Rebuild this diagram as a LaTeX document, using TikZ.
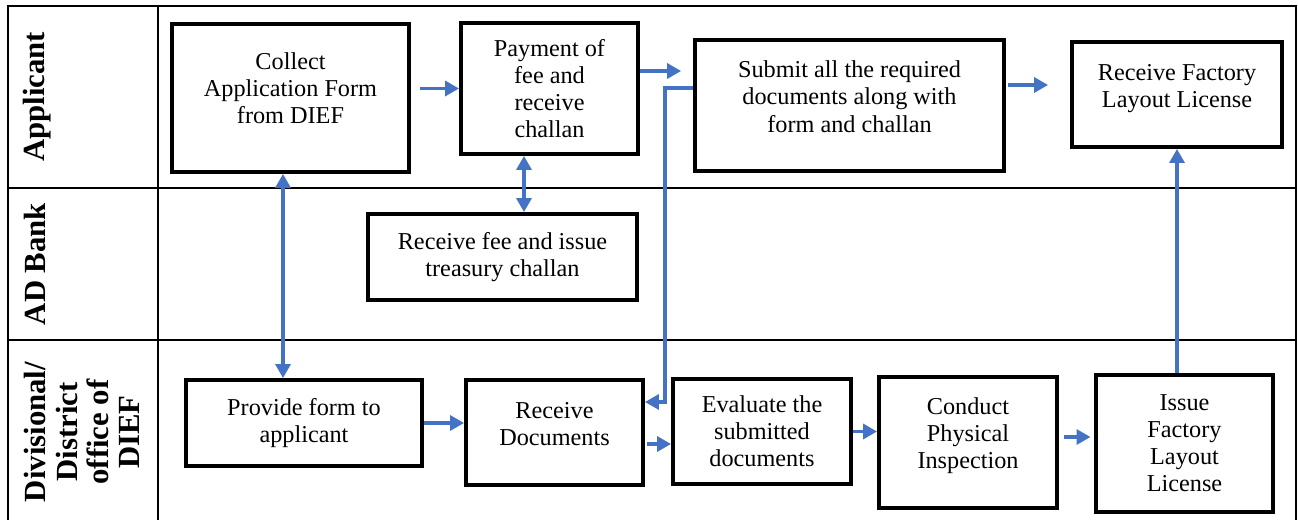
\documentclass[tikz,border=0pt]{standalone}
\usepackage{fontspec}
\setmainfont{Liberation Serif}
\usepackage{tikz}
\usetikzlibrary{arrows.meta, calc}
\definecolor{flowblue}{HTML}{4472C4}
\newcommand{\pushup}[1]{\rule[-#1]{0pt}{#1}}

\begin{document}
\begin{tikzpicture}[x=0.02cm, y=-0.02cm,
        stepbox/.style={draw=black, line width=2.2pt, align=center, inner sep=2pt,
            font=\fontsize{13.8}{15.4}\selectfont},
        flow/.style={draw=flowblue, line width=2pt, -{Triangle[length=8pt,width=8.5pt]}},
        flowboth/.style={flow, {Triangle[length=8pt,width=8.5pt]}-{Triangle[length=8pt,width=8.5pt]}},
        lane/.style={line width=1.1pt},
        lanelabel/.style={rotate=90, align=center, font=\bfseries\fontsize{17.5}{17.8}\selectfont}]
        \useasboundingbox (0,0) rectangle (1298,520);

        % swimlanes
        \draw[lane] (8,520) -- (8,6) -- (1296,6) -- (1296,520);
        \draw[lane] (158,6) -- (158,520);
        \draw[lane] (8,188) -- (1296,188);
        \draw[lane] (8,340) -- (1296,340);

        \node[lanelabel] (lapp) at (37,97) {Applicant};
        \node[lanelabel] (lbank) at (35,264) {AD Bank};
        \node[lanelabel] (ldief) at (82,432) {Divisional/\\District\\office of\\DIEF};

        % applicant
        \node[stepbox, minimum width=4.74cm, minimum height=2.96cm] (collect) at (290.5,98) {Collect\\Application Form\\from DIEF\pushup{11.4pt}};
        \node[stepbox, minimum width=3.54cm, minimum height=2.62cm] (payment) at (549.5,88.5) {Payment of\\fee and\\receive\\challan};
        \node[stepbox, minimum width=6.18cm, minimum height=2.62cm] (submit) at (849.5,105.5) {Submit all the required\\documents along with\\form and challan\pushup{10.2pt}};
        \node[stepbox, minimum width=4.2cm, minimum height=2.1cm] (license) at (1177,94.5) {Receive Factory\\Layout License\pushup{9.8pt}};

        % bank
        \node[stepbox, minimum width=5.38cm, minimum height=1.72cm] (bank) at (502.5,257) {Receive fee and issue\\treasury challan};

        % DIEF
        \node[stepbox, minimum width=4.72cm, minimum height=1.72cm] (provide) at (304,423) {Provide form to\\applicant};
        \node[stepbox, minimum width=3.54cm, minimum height=2.1cm] (recvdocs) at (554.5,432.5) {Receive\\Documents\pushup{10.2pt}};
        \node[stepbox, minimum width=3.56cm, minimum height=2.1cm] (evaluate) at (762,431.5) {Evaluate the\\submitted\\documents};
        \node[stepbox, minimum width=3.56cm, minimum height=2.62cm] (conduct) at (968,442.5) {Conduct\\Physical\\Inspection\pushup{11pt}};
        \node[stepbox, minimum width=3.54cm, minimum height=2.74cm] (issue) at (1184.5,443.5) {Issue\\Factory\\Layout\\License};

        \coordinate (bend) at (665,402);

        \draw[flow, shorten <=5pt] (collect.east |- payment) -- (payment.west);
        \draw[flow, shorten >=6.8pt] ([yshift=0.35cm]payment.east) -- ([yshift=0.35cm]payment.east -| submit.west);
        \draw[flow] ([yshift=0.35cm]submit.west) -| (bend) -- (bend -| recvdocs.east);
        \draw[flow, shorten <=1pt, shorten >=12.5pt] ([yshift=0.41cm]submit.east) -- ([yshift=0.41cm]submit.east -| license.west);
        \draw[flowboth] ([xshift=0.43cm]bank.north) -- ([xshift=0.43cm]bank.north |- payment.south);
        \draw[flowboth] ([xshift=-0.15cm]collect.south) -- ([xshift=-0.15cm]collect.south |- provide.north);
        \draw[flow] (provide.east) -- (provide.east -| recvdocs.west);
        \draw[flow, shorten <=1pt] ([yshift=-0.23cm]recvdocs.east) -- ([yshift=-0.23cm]recvdocs.east -| evaluate.west);
        \draw[flow] (evaluate.east) -- (conduct.west |- evaluate.east);
        \draw[flow, shorten <=3pt, shorten >=2pt] ([yshift=0.11cm]conduct.east) -- ([yshift=0.11cm]conduct.east -| issue.west);
        \draw[flow] (issue.north -| license.south) -- (license.south);
\end{tikzpicture}
\end{document}
